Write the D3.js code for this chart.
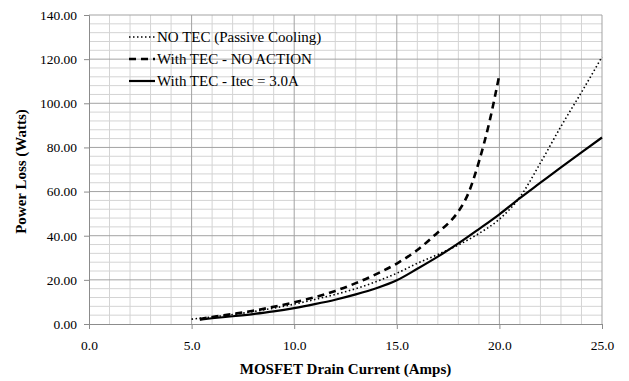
<!DOCTYPE html>
<html>
<head>
<meta charset="utf-8">
<script src="https://cdn.jsdelivr.net/npm/d3@7"></script>
<style>
  body { margin: 0; background: #fff; }
  svg { display: block; font-family: "Liberation Serif", "Times New Roman", serif; }
</style>
</head>
<body>
<svg id="chart" width="629" height="381"></svg>
<script>
// series (amps -> watts)
const noTecX   = [5, 6, 7, 8, 9, 10, 11, 12, 13, 14, 15, 16, 17, 18, 19, 20, 21, 22, 23, 24, 25];
const noTecY   = [2.2, 3.2, 4.3, 5.6, 7.2, 9.0, 11.1, 13.4, 16.0, 19.2, 23.0, 27.5, 31.5, 35.8, 41.0, 47.5, 57.5, 73.0, 89.5, 105.0, 121.0];
const noActX   = [5.4, 6, 7, 8, 9, 10, 11, 12, 13, 14, 15, 16, 17, 17.5, 18, 18.5, 19, 19.5, 20];
const noActY   = [2.2, 3.2, 4.5, 6.0, 7.8, 9.8, 12.1, 15.0, 18.5, 22.6, 27.4, 33.5, 41.5, 45.5, 51.0, 59.5, 73.5, 91.0, 113.0];
const itecX    = [5.4, 6, 7, 8, 9, 10, 11, 12, 13, 14, 15, 16, 17, 18, 19, 20, 21, 22, 23, 24, 25];
const itecY    = [2.0, 2.6, 3.5, 4.5, 5.7, 7.2, 9.0, 11.0, 13.4, 16.2, 19.8, 25.0, 30.5, 36.5, 43.0, 49.7, 57.0, 64.0, 71.0, 77.8, 84.5];

const seriesNames = ['NO TEC (Passive Cooling)', 'With TEC - NO ACTION', 'With TEC - Itec = 3.0A'];
const xTicks = [0, 5, 10, 15, 20, 25];
const yTicks = [0, 20, 40, 60, 80, 100, 120, 140];

const MARGINS = { top: 15, bottom: 57, left: 89, right: 27 };
const svg = d3.select('#chart');
const width = 629 - MARGINS.left - MARGINS.right;
const height = 381 - MARGINS.top - MARGINS.bottom;

const x = d3.scaleLinear().domain([0, 25]).range([0, width]);
const y = d3.scaleLinear().domain([0, 140]).range([height, 0]);

const g = svg.append('g').attr('transform', `translate(${MARGINS.left},${MARGINS.top})`);

// minor grid
g.append('g').selectAll('line.vminor')
  .data(d3.range(1, 25).filter(d => d % 5 !== 0))
  .join('line')
  .attr('x1', d => x(d)).attr('x2', d => x(d))
  .attr('y1', 0).attr('y2', height)
  .attr('stroke', '#d4d4d4').attr('stroke-width', 1);
g.append('g').selectAll('line.hminor')
  .data(d3.range(4, 140, 4).filter(d => d % 20 !== 0))
  .join('line')
  .attr('x1', 0).attr('x2', width)
  .attr('y1', d => y(d)).attr('y2', d => y(d))
  .attr('stroke', '#d4d4d4').attr('stroke-width', 1);

// major grid
g.append('g').selectAll('line')
  .data(xTicks.slice(1))
  .join('line')
  .attr('x1', d => x(d)).attr('x2', d => x(d))
  .attr('y1', 0).attr('y2', height)
  .attr('stroke', '#a3a3a3').attr('stroke-width', 1);
g.append('g').selectAll('line')
  .data(yTicks.slice(1))
  .join('line')
  .attr('x1', 0).attr('x2', width)
  .attr('y1', d => y(d)).attr('y2', d => y(d))
  .attr('stroke', '#a3a3a3').attr('stroke-width', 1);

// axes
const axisX = g.append('g').attr('transform', `translate(0,${height})`)
  .call(d3.axisBottom(x).tickValues(xTicks).tickFormat(d3.format('.1f')).tickSize(5).tickPadding(11));
const axisY = g.append('g')
  .call(d3.axisLeft(y).tickValues(yTicks).tickFormat(d3.format('.2f')).tickSize(5).tickPadding(7));
[axisX, axisY].forEach(a => {
  a.select('.domain').attr('stroke', '#8c8c8c');
  a.selectAll('line').attr('stroke', '#8c8c8c');
  a.selectAll('text').attr('font-family', '"Liberation Serif", serif').attr('font-size', 13.5).attr('fill', '#000');
});

// curves
const line = d3.line().x(d => x(d[0])).y(d => y(d[1])).curve(d3.curveMonotoneX);
const series = [
  { pts: d3.zip(noTecX, noTecY), dash: '1.5 2.5', width: 1.6 },
  { pts: d3.zip(noActX, noActY), dash: '7 5', width: 2.6 },
  { pts: d3.zip(itecX, itecY), dash: null, width: 2.2 }
];
g.append('g').selectAll('path')
  .data(series)
  .join('path')
  .attr('d', d => line(d.pts))
  .attr('fill', 'none')
  .attr('stroke', '#000')
  .attr('stroke-width', d => d.width)
  .attr('stroke-dasharray', d => d.dash);

// legend
const legend = svg.append('g').attr('transform', 'translate(129,37)');
legend.selectAll('g')
  .data(series)
  .join('g')
  .attr('transform', (d, i) => `translate(0,${i * 22})`)
  .each(function(d, i) {
    const row = d3.select(this);
    row.append('line')
      .attr('x1', 0).attr('x2', 26).attr('y1', 0).attr('y2', 0)
      .attr('stroke', '#000').attr('stroke-width', d.width)
      .attr('stroke-dasharray', d.dash);
    row.append('text')
      .attr('x', 28).attr('y', 5)
      .attr('font-size', 15)
      .text(seriesNames[i]);
  });

// axis titles
svg.append('text')
  .attr('x', MARGINS.left + width / 2).attr('y', 374)
  .attr('text-anchor', 'middle').attr('font-size', 15).attr('font-weight', 'bold')
  .text('MOSFET Drain Current (Amps)');
svg.append('text')
  .attr('transform', `translate(26,${MARGINS.top + height / 2 + 2}) rotate(-90)`)
  .attr('text-anchor', 'middle').attr('font-size', 15).attr('font-weight', 'bold')
  .text('Power Loss (Watts)');
</script>
</body>
</html>
